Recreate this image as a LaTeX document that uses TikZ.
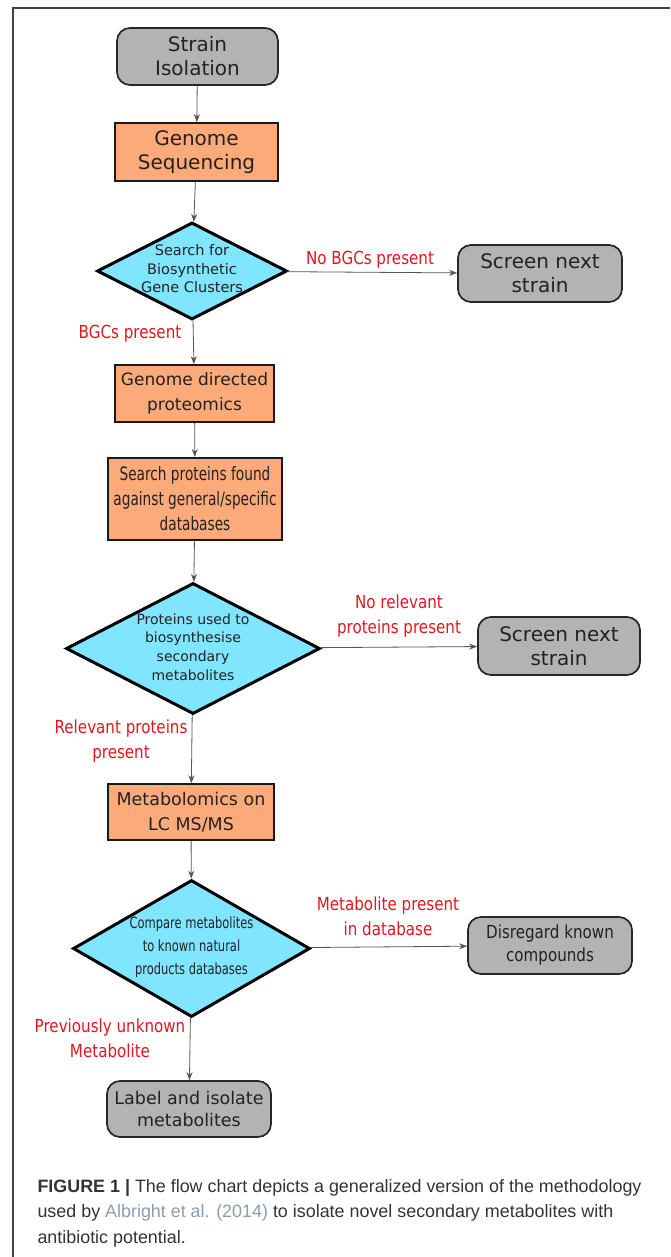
\documentclass[tikz,border=0pt]{standalone}
\usepackage{fontspec}
\setmainfont{DejaVu Sans}
\newfontfamily\condfont[FakeStretch=0.84]{DejaVu Sans}
\newfontfamily\narrowfont[FakeStretch=0.74]{DejaVu Sans}
\newfontfamily\capfont{Liberation Sans}
\usetikzlibrary{shapes.geometric,arrows.meta}
\definecolor{boxgray}{HTML}{B3B3B3}
\definecolor{boxorange}{HTML}{FDAA7B}
\definecolor{boxcyan}{HTML}{80E5FF}
\definecolor{notered}{HTML}{E3161E}
\definecolor{linegray}{HTML}{555555}
\definecolor{textgray}{HTML}{222222}
\definecolor{citegray}{HTML}{8E9AAE}
\definecolor{capgray}{HTML}{333333}
\tikzset{
  startstop/.style={rectangle, rounded corners=13pt, draw=black!85, line width=1.7pt, fill=boxgray,
    text=textgray, align=center, inner sep=0pt},
  process/.style={rectangle, draw=black!90, line width=1.7pt, fill=boxorange,
    text=textgray, align=center, inner sep=0pt},
  decision/.style={diamond, draw=black, line width=3pt, fill=boxcyan, inner sep=0pt},
  diatext/.style={text=textgray, align=center, inner sep=0pt},
  flow/.style={draw=linegray, line width=0.8pt, -{Stealth[length=8pt,width=6pt]}},
  note/.style={text=notered, align=center, font=\condfont\fontsize{18}{25}\selectfont},
}
\begin{document}
\begin{tikzpicture}[x=1pt,y=-1pt]
\useasboundingbox (0,0) rectangle (670,1257);
\draw[draw=black!75, line width=1.4pt] (670,8) -- (13,8) -- (13,1257);

\node[startstop, minimum width=161, minimum height=57, font=\fontsize{20}{24}\selectfont] (start) at (197.5,56.5) {Strain\\Isolation};
\node[process, minimum width=163, minimum height=58, font=\fontsize{20}{24}\selectfont] (seq) at (196.5,152) {Genome\\Sequencing};
\node[decision, minimum width=190, minimum height=97] (bgc) at (192,271) {};
\node[diatext, font=\fontsize{14.5}{18.5}\selectfont] (bgctext) at (192,269) {Search for\\Biosynthetic\\Gene Clusters};
\node[startstop, minimum width=164, minimum height=57, font=\fontsize{20}{24}\selectfont] (next1) at (540,273.5) {Screen next\\strain};
\node[process, minimum width=159, minimum height=57, font=\fontsize{17}{25}\selectfont] (gdp) at (194.5,393.5) {Genome directed\\proteomics};
\node[process, minimum width=174, minimum height=82, line width=2.2pt, font=\narrowfont\fontsize{18.5}{25}\selectfont] (spf) at (195,499) {Search proteins found\\against general/specific\\databases};
\node[decision, minimum width=254, minimum height=131] (prot) at (193,648.5) {};
\node[diatext, font=\fontsize{14}{18.7}\selectfont] (prottext) at (193,647) {Proteins used to\\biosynthesise\\secondary\\metabolites};
\node[startstop, minimum width=162, minimum height=58, font=\fontsize{20}{24}\selectfont] (next2) at (559,646) {Screen next\\strain};
\node[process, minimum width=166, minimum height=56, font=\fontsize{17.5}{25}\selectfont] (lcms) at (191,812) {Metabolomics on\\LC MS/MS};
\node[decision, minimum width=237, minimum height=137] (comp) at (191.5,948.5) {};
\node[diatext, font=\narrowfont\fontsize{15.5}{23}\selectfont] (comptext) at (191.5,947) {Compare metabolites\\to known natural\\products databases};
\node[startstop, minimum width=164, minimum height=57, font=\condfont\fontsize{18}{23}\selectfont] (known) at (550,945.5) {Disregard known\\compounds};
\node[startstop, minimum width=164, minimum height=56, font=\fontsize{17.5}{22}\selectfont] (iso) at (189,1109) {Label and isolate\\metabolites};

\draw[flow] (start) -- (seq);
\draw[flow] (seq) -- (bgc);
\draw[flow] (bgc) -- (next1);
\draw[flow] (bgc) -- (gdp);
\draw[flow] (gdp) -- (spf);
\draw[flow] (spf) -- (prot);
\draw[flow] (prot) -- (next2);
\draw[flow] (prot) -- (lcms);
\draw[flow] (lcms) -- (comp);
\draw[flow] (comp) -- (known);
\draw[flow] (comp) -- (iso);

\node[note] (nobgc) at (370,260) {No BGCs present};
\node[note] (yesbgc) at (130,334) {BGCs present};
\node[note] (noprot) at (399,616) {No relevant\\proteins present};
\node[note] (yesprot) at (121,741) {Relevant proteins\\present};
\node[note] (known1) at (388,916) {Metabolite present\\in database};
\node[note] (unknown) at (110,1038) {Previously unknown\\Metabolite};

\node[anchor=west, align=left, text=capgray, font=\capfont\fontsize{17.9}{25.5}\selectfont] (caption) at (34,1213)
  {\textbf{FIGURE 1 |} The flow chart depicts a generalized version of the methodology\\
   used by \textcolor{citegray}{Albright et al. (2014)} to isolate novel secondary metabolites with\\
   antibiotic potential.};
\end{tikzpicture}
\end{document}
